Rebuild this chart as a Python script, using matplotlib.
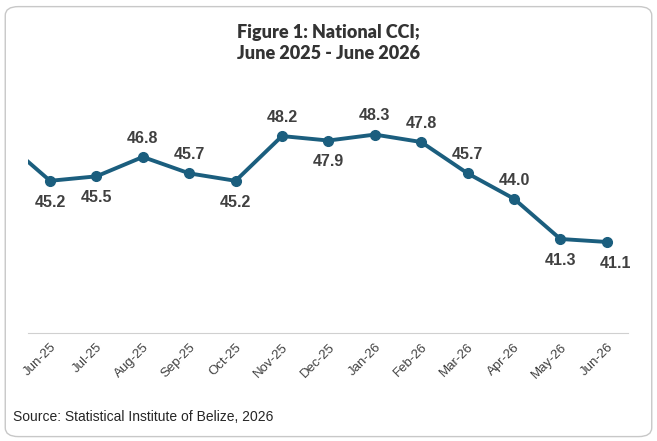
import matplotlib.pyplot as plt
from matplotlib.patches import FancyBboxPatch

months = ["May-25", "Jun-25", "Jul-25", "Aug-25", "Sep-25", "Oct-25", "Nov-25", "Dec-25",
          "Jan-26", "Feb-26", "Mar-26", "Apr-26", "May-26", "Jun-26"]
cci = [47.9, 45.2, 45.5, 46.8, 45.7, 45.2, 48.2, 47.9, 48.3, 47.8, 45.7, 44.0, 41.3, 41.1]
below = {"Jun-25", "Jul-25", "Oct-25", "Dec-25", "May-26"}

LINE = "#1b5e7e"
TXT = "#404040"

fig = plt.figure(figsize=(6.57, 4.41), dpi=100)
fig.patches.append(FancyBboxPatch((0.008, 0.01), 0.984, 0.975, boxstyle="round,pad=0,rounding_size=0.02",
                                  transform=fig.transFigure, fill=False, ec="#c8c8c8", lw=1))
ax = fig.add_axes([0.043, 0.245, 0.913, 0.575])
x = list(range(-1, len(months) - 1))
ax.plot(x, cci, color=LINE, lw=2.8, marker="o", ms=7, clip_on=True)
for xi, m, v in zip(x, months, cci):
    if xi < 0:
        continue
    if m == "Jun-26":
        ax.annotate(f"{v:.1f}", (xi, v), xytext=(6, -10), textcoords="offset points",
                    ha="center", va="top", fontsize=11.5, fontweight="bold", color=TXT, family="Liberation Sans")
    elif m in below:
        ax.annotate(f"{v:.1f}", (xi, v), xytext=(0, -10), textcoords="offset points",
                    ha="center", va="top", fontsize=11.5, fontweight="bold", color=TXT, family="Liberation Sans")
    else:
        ax.annotate(f"{v:.1f}", (xi, v), xytext=(0, 8), textcoords="offset points",
                    ha="center", va="bottom", fontsize=11.5, fontweight="bold", color=TXT, family="Liberation Sans")
ax.set_xlim(-0.47, 12.46)
ax.set_ylim(35, 52)
ax.set_xticks(x[1:])
ax.set_xticklabels(months[1:], rotation=45, ha="right", rotation_mode="anchor",
                   fontsize=9.5, color="#404040", family="Liberation Sans")
ax.set_yticks([])
for s in ["top", "left", "right"]:
    ax.spines[s].set_visible(False)
ax.spines["bottom"].set_color("#d0d0d0")
ax.tick_params(axis="x", length=0, pad=6)

fig.text(0.5, 0.945, "Figure 1: National CCI;\nJune 2025 - June 2026", ha="center", va="top",
         fontsize=13, fontweight="heavy", color="#333333", family="Lato", linespacing=1.3)
fig.text(0.02, 0.055, "Source: Statistical Institute of Belize, 2026", ha="left", va="center",
         fontsize=10, color="#262626", family="Liberation Sans")
fig.savefig("out.png", dpi=100)
